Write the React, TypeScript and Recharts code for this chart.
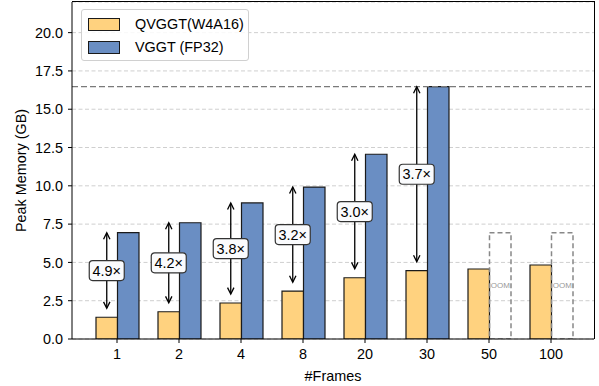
import React from 'react';
import {
  BarChart, Bar, LabelList,
  XAxis, YAxis, CartesianGrid,
  ReferenceLine,
} from 'recharts';

// frame counts on the x axis
const frames = ['1', '2', '4', '8', '20', '30', '50', '100'];
// peak memory in GB
const qvggt = [1.42, 1.78, 2.35, 3.13, 4.0, 4.46, 4.57, 4.83];
const vggt = [6.94, 7.59, 8.88, 9.92, 12.06, 16.47, 0, 0];
// placeholder height of the out-of-memory boxes
const oom = [0, 0, 0, 0, 0, 0, 6.94, 6.94];
const ratios = ['4.9×', '4.2×', '3.8×', '3.2×', '3.0×', '3.7×'];
const yTicks = [0, 2.5, 5, 7.5, 10, 12.5, 15, 17.5, 20];
const Y_MAX = 22;

const YELLOW = '#FFD27F';
const BLUE = '#6A8EC3';
const FONT = '"Liberation Sans", Arial, sans-serif';
const FS = 14.4;

const W = 599;
const H = 386;
const MARGIN = { top: 2, right: 5, bottom: 0, left: 0 };
const Y_AXIS_W = 72;
const X_AXIS_H = 47;
const X_PAD = { left: 14, right: 12 };

const rows = frames.map((f, i) => ({ frames: f, q: qvggt[i], v: vggt[i], oom: oom[i] }));
const peak = Math.max(...vggt);

// arrows start a little above the quantized bar
const ARROW_GAP = 0.58;

const head = (x: number, y: number, dir: number) =>
  `M ${x - 3.2} ${y + dir * 6.5} L ${x} ${y} L ${x + 3.2} ${y + dir * 6.5}`;

// drawn from the VGGT bar geometry so both ends follow the y scale
const RatioMark = (props: any) => {
  const { index } = props;
  const vb = props.viewBox ?? props;
  const { x, y, width, height } = vb;
  if (index >= ratios.length || !height) return null;
  const ppu = height / vggt[index];
  const base = y + height;
  const cx = x - width / 2;
  const yTop = y;
  const yBot = base - (qvggt[index] + ARROW_GAP) * ppu;
  const yMid = (yTop + yBot) / 2;
  return (
    <g>
      <line x1={cx} x2={cx} y1={yTop + 0.5} y2={yBot - 0.5} stroke="#000" strokeWidth={1.3} />
      <path d={head(cx, yTop, 1)} fill="none" stroke="#000" strokeWidth={1.3} />
      <path d={head(cx, yBot, -1)} fill="none" stroke="#000" strokeWidth={1.3} />
      <rect x={cx - 17.5} y={yMid - 10} width={35} height={20} rx={3.5}
        fill="#fafbfd" stroke="#333" strokeWidth={1.2} />
      <text x={cx} y={yMid} textAnchor="middle" dominantBaseline="central" stroke="none"
        fontFamily={FONT} fontSize={FS} fill="#000">{ratios[index]}</text>
    </g>
  );
};

const OomText = (props: any) => {
  const vb = props.viewBox ?? props;
  const { x, y, width, height } = vb;
  if (!height) return null;
  return (
    <text x={x + width / 2} y={y + height / 2} textAnchor="middle" dominantBaseline="central"
      stroke="none" fontFamily={FONT} fontSize={8} fill="#999">OOM</text>
  );
};

const YLabel = (props: any) => {
  const vb = props.viewBox;
  const cy = vb.y + vb.height / 2;
  return (
    <text x={26} y={cy} transform={`rotate(-90, 26, ${cy})`} textAnchor="middle"
      fontFamily={FONT} fontSize={FS} fill="#000">Peak Memory (GB)</text>
  );
};

const legendItems = [
  { name: 'QVGGT(W4A16)', color: YELLOW },
  { name: 'VGGT (FP32)', color: BLUE },
];

// plot box from the chart margins, for the top and right spines
const plotLeft = MARGIN.left + Y_AXIS_W;
const plotTop = MARGIN.top;
const plotRight = W - MARGIN.right;
const plotBottom = H - MARGIN.bottom - X_AXIS_H;

export default function App() {
  return (
    <div style={{ position: 'fixed', left: 0, top: 0, width: W, height: H, background: '#fff', fontFamily: FONT }}>
      <BarChart width={W} height={H} data={rows} margin={MARGIN} barGap={0} barSize={21.5}>
        <CartesianGrid vertical={false} stroke="#cfcfcf" strokeDasharray="4 2.5" />
        <XAxis dataKey="frames" height={X_AXIS_H} padding={X_PAD}
          stroke="#000" tickSize={4} tickMargin={6}
          tick={{ fill: '#000', fontSize: FS, fontFamily: FONT }}
          label={{ value: '#Frames', position: 'insideBottom', offset: 5, fill: '#000', fontSize: FS, fontFamily: FONT }} />
        <YAxis width={Y_AXIS_W} domain={[0, Y_MAX]} ticks={yTicks} allowDataOverflow
          stroke="#000" tickSize={4} tickMargin={5}
          tickFormatter={(v: number) => v.toFixed(1)}
          tick={{ fill: '#000', fontSize: FS, fontFamily: FONT }}
          label={{ content: YLabel }} />
        <ReferenceLine y={peak} stroke="#7a7a7a" strokeWidth={1.2} strokeDasharray="6 3" />
        <Bar dataKey="q" name="QVGGT(W4A16)" stackId="a" fill={YELLOW} stroke="#1a1a1a" strokeWidth={1.2}
          isAnimationActive={false} />
        <Bar dataKey="v" name="VGGT (FP32)" stackId="b" fill={BLUE} stroke="#1a1a1a" strokeWidth={1.2}
          isAnimationActive={false}>
          <LabelList dataKey="v" content={RatioMark} />
        </Bar>
        <Bar dataKey="oom" stackId="b" fill="none" stroke="#888" strokeWidth={1.5} strokeDasharray="5 3"
          isAnimationActive={false}>
          <LabelList dataKey="oom" content={OomText} />
        </Bar>
      </BarChart>
      <div style={{
        position: 'absolute', left: plotLeft, top: plotTop - 0.6,
        width: plotRight - plotLeft + 0.6, height: plotBottom - plotTop + 0.6,
        borderTop: '1.2px solid #000', borderRight: '1.2px solid #000',
        boxSizing: 'border-box', pointerEvents: 'none',
      }} />
      <div style={{
        position: 'absolute', left: 81, top: 9, width: 166, height: 50,
        border: '1px solid #d0d0d0', borderRadius: 3, background: 'rgba(255,255,255,0.85)',
      }}>
        {legendItems.map((it, i) => (
          <div key={it.name} style={{ position: 'absolute', left: 6, top: 7 + i * 23, height: 14, display: 'flex', alignItems: 'center' }}>
            <span style={{ width: 30, height: 11, background: it.color, border: '1.2px solid #1a1a1a', display: 'inline-block' }} />
            <span style={{ marginLeft: 15, fontSize: FS, color: '#000', lineHeight: '14px', whiteSpace: 'nowrap' }}>{it.name}</span>
          </div>
        ))}
      </div>
    </div>
  );
}
